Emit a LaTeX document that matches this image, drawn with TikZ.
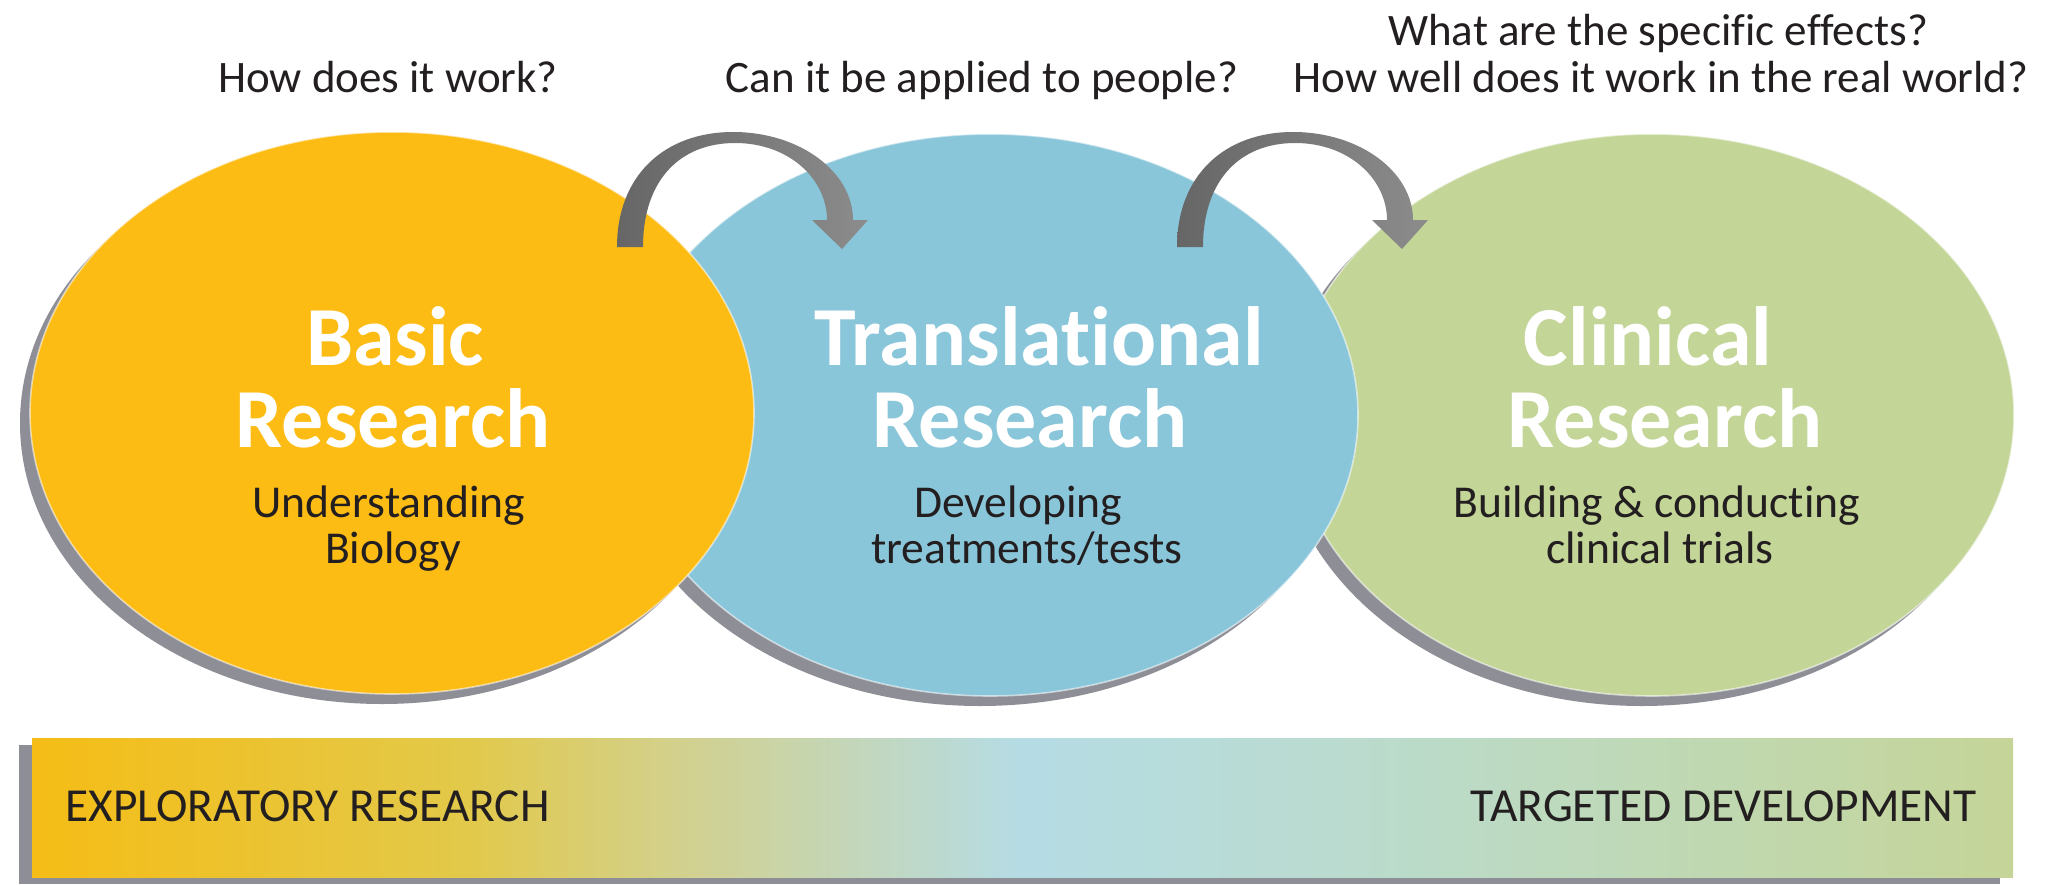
\documentclass[tikz,border=0pt]{standalone}
\usepackage{fontspec}
\setmainfont{Carlito}[Ligatures={NoCommon}]
\usetikzlibrary{shapes.geometric,shadows}
\definecolor{cyel}{HTML}{FCBC14}
\definecolor{cblue}{HTML}{8AC6D9}
\definecolor{cgreen}{HTML}{C3D597}
\definecolor{cshadow}{HTML}{8E8E96}
\definecolor{cdark}{HTML}{231F20}
\definecolor{carrowA}{HTML}{666666}
\definecolor{carrowB}{HTML}{8C8C8C}
\definecolor{barA}{HTML}{F5BD16}
\definecolor{barB}{HTML}{E2C94A}
\definecolor{barC}{HTML}{D3D08A}
\definecolor{barD}{HTML}{B5DCE5}
\definecolor{barE}{HTML}{BBDBC9}
\definecolor{barF}{HTML}{C5D598}
\pgfdeclarehorizontalshading{barshade}{100bp}{color(0bp)=(barA); color(25bp)=(barA); color(36bp)=(barB); color(41bp)=(barC); color(50bp)=(barD); color(60bp)=(barE); color(75bp)=(barF); color(100bp)=(barF)}
\tikzset{
  blob/.style={ellipse, inner sep=0pt, minimum width=362pt, minimum height=281pt,
    draw=white, draw opacity=0.55, line width=0.8pt,
    drop shadow={shadow xshift=-5pt, shadow yshift=-5pt, fill=cshadow, opacity=1}},
  question/.style={inner sep=0pt, anchor=base, text=cdark, font=\fontsize{22.5}{26}\selectfont},
  title/.style={inner sep=0pt, anchor=base, text=white, font=\fontsize{42}{46}\bfseries\selectfont},
  subtitle/.style={inner sep=0pt, anchor=base, text=cdark, font=\fontsize{22.8}{26}\selectfont},
  bartext/.style={inner sep=0pt, text=cdark, font=\fontsize{23.7}{28}\selectfont},
  bendarrow/.pic={
    \shade[left color=carrowA, right color=carrowB]
      (617,247) .. controls (617,175) and (665,132) .. (733,132)
      .. controls (800,132) and (853,172) .. (853,220)
      -- (868,220) -- (842,249) -- (812,220) -- (827,220)
      .. controls (827,180) and (790,143) .. (735,143)
      .. controls (680,143) and (643,180) .. (643,247) -- cycle;
  }
}
\begin{document}
\begin{tikzpicture}[x=0.5pt, y=-0.5pt]
\useasboundingbox (0,0) rectangle (2045,884);
\fill[white] (0,0) rectangle (2045,884);

% bottom bar
\node[rectangle, inner sep=0pt, minimum width=990.5pt, minimum height=69.5pt,
  shading=barshade,
  drop shadow={shadow xshift=-6.5pt, shadow yshift=-3.5pt, fill=cshadow, opacity=1}]
  (bar) at (1022.5,807.5) {};
\node[bartext, anchor=base west] (explo) at (65,821) {EXPLORATORY RESEARCH};
\node[bartext, anchor=base east] (target) at (1977,821) {TARGETED DEVELOPMENT};

% ellipses
\node[blob, fill=cgreen] (clin) at (1652,415) {};
\node[blob, fill=cblue, minimum width=368pt] (trans) at (990,415) {};
\node[blob, fill=cyel] (basic) at (392,413) {};

% arrows
\pic at (0,0) {bendarrow};
\pic at (560,0) {bendarrow};

% questions
\node[question] (q1) at (388,92) {How does it work?};
\node[question] (q2) at (982,92) {Can it be applied to people?};
\node[question] (q3a) at (1658,45) {What are the specific effects?};
\node[question] (q3b) at (1661,92) {How well does it work in the real world?};

% titles
\node[title] (t1a) at (395,365) {Basic};
\node[title] (t1b) at (393,447) {Research};
\node[title] (t2a) at (1039,365) {Translational};
\node[title] (t2b) at (1030,447) {Research};
\node[title] (t3a) at (1648,365) {Clinical};
\node[title] (t3b) at (1665,447) {Research};

% subtitles
\node[subtitle] (s1a) at (389,517) {Understanding};
\node[subtitle] (s1b) at (393,563) {Biology};
\node[subtitle] (s2a) at (1018,517) {Developing};
\node[subtitle] (s2b) at (1027,563) {treatments/tests};
\node[subtitle] (s3a) at (1657,517) {Building \& conducting};
\node[subtitle] (s3b) at (1660,563) {clinical trials};
\end{tikzpicture}
\end{document}
